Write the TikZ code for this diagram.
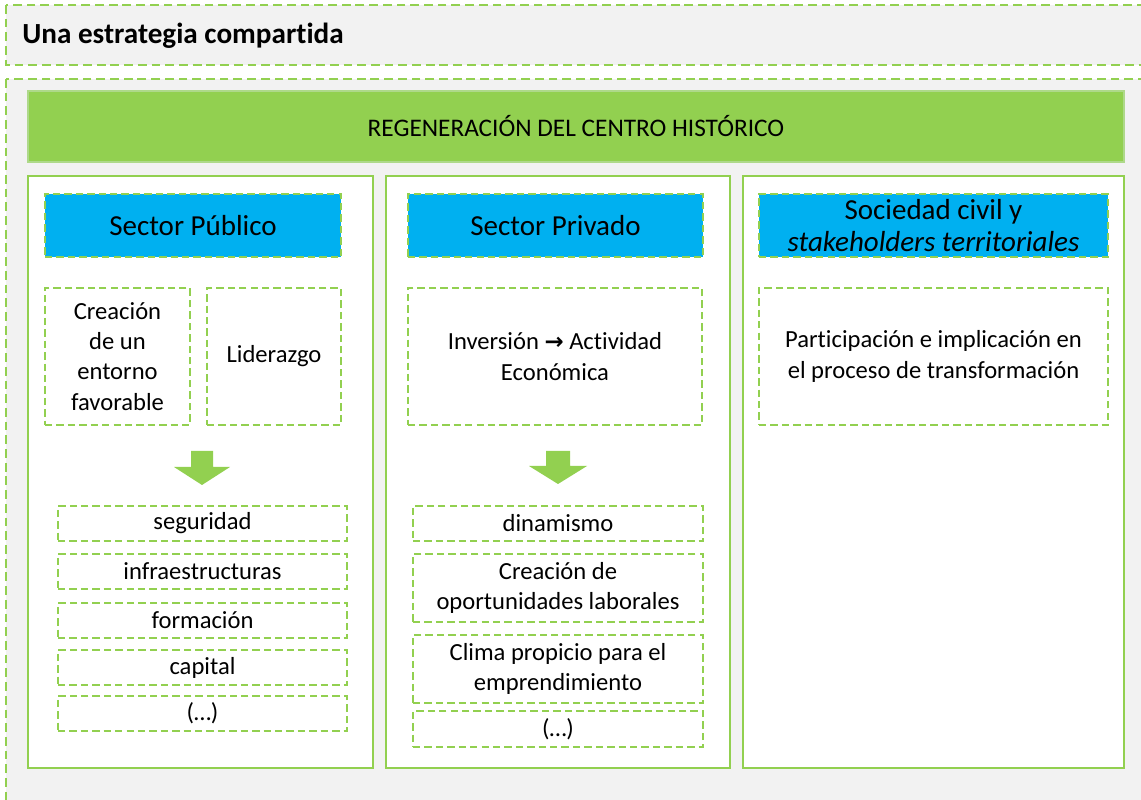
\documentclass[tikz,border=0pt]{standalone}
\usepackage{fontspec}
\setmainfont[Ligatures=NoCommon]{Carlito}
\newfontfamily\flechafont{DejaVu Sans}
\definecolor{verde}{HTML}{92D050}
\definecolor{verdeclaro}{HTML}{AED98A}
\definecolor{azul}{HTML}{00B0F0}
\definecolor{gris}{HTML}{F2F2F2}

\begin{document}
\begin{tikzpicture}[
    dashbox/.style={draw=verde, line width=1.1pt, dash pattern=on 4.2pt off 2.3pt,
      inner sep=0pt, align=center},
    header/.style={dashbox, fill=azul, font=\fontsize{16.5}{18.7}\selectfont},
    item/.style={dashbox, fill=white, font=\fontsize{14}{17.2}\selectfont},
    column/.style={draw=verde, line width=1.2pt, fill=white, inner sep=0pt},
    band/.style={draw=verde, line width=1.1pt, dash pattern=on 5pt off 2.8pt, fill=gris}
  ]
  \clip (0,0) rectangle (22.82,-16);
  \fill[white] (0,0) rectangle (22.82,-16);
  % fondo
  \draw[band] (0.12,-0.10) rectangle (23.2,-1.30);
  \draw[band] (0.12,-1.58) rectangle (23.2,-16.5);
  \node[anchor=base west, inner sep=0pt, font=\fontsize{16.6}{19}\selectfont\bfseries]
    (titulo) at (0.44,-0.88) {Una estrategia compartida};
  \node[fill=verde, draw=verdeclaro, line width=0.8pt, minimum width=21.92cm,
    minimum height=1.42cm, inner sep=0pt, font=\fontsize{14.4}{17}\selectfont]
    (regen) at (11.52,-2.53) {REGENERACIÓN DEL CENTRO HISTÓRICO};
  % columnas
  \node[column, minimum width=6.90cm, minimum height=11.84cm] (colpub) at (4.01,-9.44) {};
  \node[column, minimum width=6.88cm, minimum height=11.84cm] (colpriv) at (11.16,-9.44) {};
  \node[column, minimum width=7.62cm, minimum height=11.84cm] (colsoc) at (18.67,-9.44) {};
  % cabeceras
  \node[header, minimum width=5.92cm, minimum height=1.26cm] (pub) at (3.86,-4.51) {Sector Público};
  \node[header, minimum width=5.90cm, minimum height=1.26cm] (priv) at (11.11,-4.51) {Sector Privado};
  \node[header, minimum width=6.98cm, minimum height=1.26cm] (soc) at (18.67,-4.51)
    {Sociedad civil y\\\textit{stakeholders territoriales}};
  % papeles
  \node[item, minimum width=2.90cm, minimum height=2.74cm] (entorno) at (2.35,-7.13)
    {Creación\\de un\\entorno\\favorable};
  \node[item, minimum width=2.68cm, minimum height=2.74cm] (lider) at (5.48,-7.13) {Liderazgo};
  \node[item, minimum width=5.88cm, minimum height=2.74cm] (inversion) at (11.10,-7.13)
    {Inversión {\flechafont\bfseries\fontsize{13}{17}\selectfont →} Actividad\\Económica};
  \node[item, minimum width=6.98cm, minimum height=2.74cm] (particip) at (18.67,-7.13)
    {Participación e implicación en\\el proceso de transformación};
  % flechas
  \fill[verde] (3.82,-9.02) -- (4.26,-9.02) -- (4.26,-9.34) -- (4.60,-9.34)
    -- (4.04,-9.70) -- (3.48,-9.34) -- (3.82,-9.34) -- cycle;
  \fill[verde] (10.92,-9.02) -- (11.40,-9.02) -- (11.40,-9.32) -- (11.74,-9.32)
    -- (11.16,-9.68) -- (10.58,-9.32) -- (10.92,-9.32) -- cycle;
  % sector publico
  \node[item, minimum width=5.78cm, minimum height=0.70cm] (seg) at (4.05,-10.47) {seguridad};
  \node[item, minimum width=5.78cm, minimum height=0.70cm] (infra) at (4.05,-11.43) {infraestructuras};
  \node[item, minimum width=5.78cm, minimum height=0.70cm] (form) at (4.05,-12.41) {formación};
  \node[item, minimum width=5.78cm, minimum height=0.70cm] (capital) at (4.05,-13.35) {capital};
  \node[item, minimum width=5.78cm, minimum height=0.70cm] (otrospub) at (4.05,-14.27) {(…)};
  % sector privado
  \node[item, minimum width=5.80cm, minimum height=0.70cm] (dinam) at (11.16,-10.47) {dinamismo};
  \node[item, minimum width=5.80cm, minimum height=1.36cm] (oport) at (11.16,-11.76)
    {Creación de\\oportunidades laborales};
  \node[item, minimum width=5.80cm, minimum height=1.36cm] (clima) at (11.16,-13.38)
    {Clima propicio para el\\emprendimiento};
  \node[item, minimum width=5.80cm, minimum height=0.72cm] (otrospriv) at (11.16,-14.58) {(…)};
\end{tikzpicture}
\end{document}
